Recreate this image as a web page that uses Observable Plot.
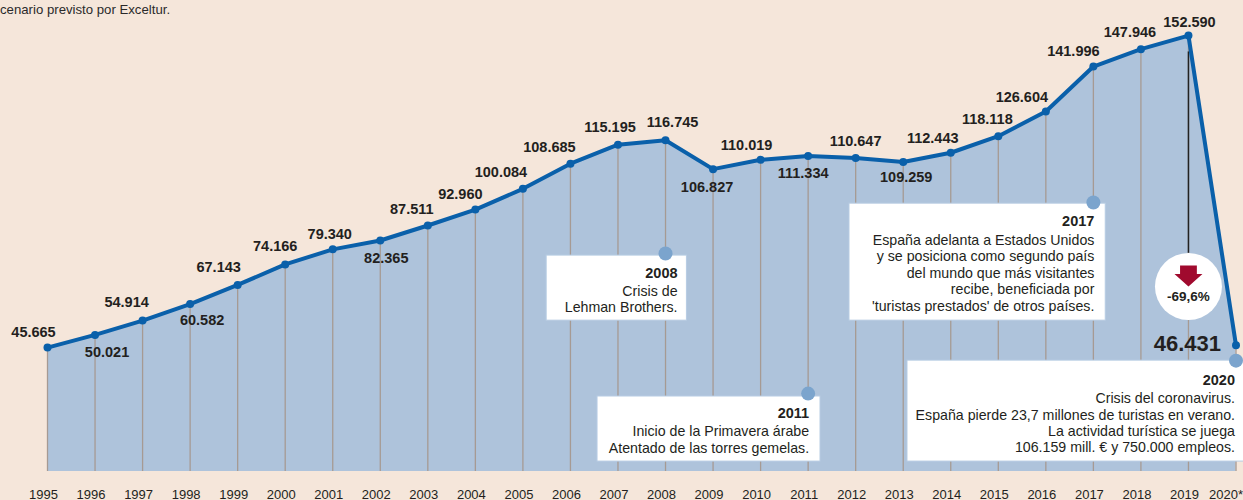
<!DOCTYPE html>
<html><head><meta charset="utf-8">
<script src="https://cdn.jsdelivr.net/npm/d3@7"></script>
<script src="https://cdn.jsdelivr.net/npm/@observablehq/plot@0.6"></script>
<style>
html,body{margin:0;padding:0;background:#F5E6DA;}
#wrap{position:relative;width:1243px;height:500px;overflow:hidden;background:#F5E6DA;}
#cap{position:absolute;left:0;top:2px;font:13.2px "Liberation Sans",Arial,sans-serif;color:#2a2a2a;white-space:nowrap;}
#wrap svg{display:block;}
</style></head><body>
<div id="wrap"><div id="cap">cenario previsto por Exceltur.</div></div>
<script>
// ---- data ----
const years = [1995,1996,1997,1998,1999,2000,2001,2002,2003,2004,2005,2006,2007,2008,2009,2010,2011,2012,2013,2014,2015,2016,2017,2018,2019,2020];
const visitors = [45.665,50.021,54.914,60.582,67.143,74.166,79.340,82.365,87.511,92.960,100.084,108.685,115.195,116.745,106.827,110.019,111.334,110.647,109.259,112.443,118.118,126.604,141.996,147.946,152.590,46.431];
const tickLabels = ["1995","1996","1997","1998","1999","2000","2001","2002","2003","2004","2005","2006","2007","2008","2009","2010","2011","2012","2013","2014","2015","2016","2017","2018","2019","2020*"];
const noteYears = [2008, 2011, 2017, 2020];
const noteTitles = ["2008", "2011", "2017", "2020"];
const noteTexts = [
  "Crisis de\nLehman Brothers.",
  "Inicio de la Primavera árabe\nAtentado de las torres gemelas.",
  "España adelanta a Estados Unidos\ny se posiciona como segundo país\ndel mundo que más visitantes\nrecibe, beneficiada por\n'turistas prestados' de otros países.",
  "Crisis del coronavirus.\nEspaña pierde 23,7 millones de turistas en verano.\nLa actividad turística se juega\n106.159 mill. € y 750.000 empleos."
];
const changeLabel = "-69,6%";
const captionText = "cenario previsto por Exceltur.";

// ---- layout (styling only) ----
// label offsets [dx, dy] in px from each point (dy = baseline offset)
const labelOffsets = [[-14,-11],[12,22],[-16,-14],[12,21],[-19,-13],[-10,-13],[-3,-10],[6,22],[-16,-12],[-15,-11],[-22,-12],[-21,-12],[-8,-13],[7,-13],[-6,23],[-14,-10],[-5,22],[0,-12],[3,20],[-18,-10],[-11,-12],[-24,-9],[-20,-11],[-11,-12],[1,-9],[-15,6]];
// annotation boxes in data units: anchor value, x1, x2, yBottom, yTop, text dx
const noteLayout = [
  {v: 77.9, x1: 2005.5, x2: 2008.45, y1: 54.9, y2: 77.2, dx: 12},
  {v: 29.9, x1: 2006.57, x2: 2011.26, y1: 6.6, y2: 28.9, dx: 1},
  {v: 95.4, x1: 2011.87, x2: 2017.26, y1: 54.9, y2: 95.0, dx: 1},
  {v: 41.2, x1: 2013.09, x2: 2020.4, y1: 6.6, y2: 41.2, dx: -1}
];

const esLocale = d3.formatLocale({decimal: ",", thousands: ".", grouping: [3], currency: ["", "€"]});
const fmt = esLocale.format(",.0f");

const data = years.map((y, i) => ({year: y, value: visitors[i], label: fmt(Math.round(visitors[i] * 1000)), off: labelOffsets[i], tick: tickLabels[i]}));
const notes = noteYears.map((y, i) => ({year: y, title: noteTitles[i], text: noteTexts[i], ...noteLayout[i]}));

const Y0 = 3.2;
const LINE = "#0A60AA", AREA = "#AEC3DB", GRID = "#A69A93", INK = "#231F20";
const FONT = "Liberation Sans, Arial, sans-serif";

const arrowSymbol = {
  draw(ctx, size) {
    const r = Math.sqrt(size / Math.PI);
    const sw = 0.6 * r, top = -0.75 * r, ht = -0.15 * r, tip = 0.75 * r, hw = r;
    ctx.moveTo(-sw, top); ctx.lineTo(sw, top); ctx.lineTo(sw, ht); ctx.lineTo(hw, ht);
    ctx.lineTo(0, tip); ctx.lineTo(-hw, ht); ctx.lineTo(-sw, ht); ctx.closePath();
  }
};

const last = data[data.length - 1];
const prev = data[data.length - 2];

const valueLabelMarks = data.map((d, i) => {
  const isLast = i === data.length - 1;
  return Plot.text([d], {
    x: "year", y: "value", text: "label",
    dx: d.off[0], dy: d.off[1],
    lineAnchor: "bottom",
    textAnchor: isLast ? "end" : "middle",
    fontSize: isLast ? 22 : 14.5, fontWeight: "bold", fill: INK,
    fontFamily: FONT
  });
});

const noteMarks = notes.flatMap(n => [
  Plot.text([n], {x: "year", y: "v", text: "title", textAnchor: "end", lineAnchor: "top", dx: n.dx, dy: 24 - 0.71 * 14.5, fontSize: 14.5, fontWeight: "bold", fill: INK, fontFamily: FONT}),
  Plot.text([n], {x: "year", y: "v", text: "text", textAnchor: "end", lineAnchor: "top", dx: n.dx, dy: 41 - 0.71 * 14.2, fontSize: 14.2, lineHeight: 16.4 / 14.2, fill: INK, fontFamily: FONT})
]);

const chart = Plot.plot({
  width: 1243, height: 500,
  marginLeft: 47, marginRight: 7.5, marginTop: 13.5, marginBottom: 29,
  x: {domain: [1995, 2020], axis: null},
  y: {domain: [Y0, 160], axis: null},
  style: {background: "transparent", fontFamily: FONT, overflow: "visible"},
  marks: [
    Plot.areaY(data, {x: "year", y1: Y0, y2: "value", fill: AREA}),
    Plot.ruleX(data, {x: "year", y1: Y0, y2: "value", stroke: GRID, strokeWidth: 1.3}),
    Plot.rect(notes, {x1: "x1", x2: "x2", y1: "y1", y2: "y2", fill: "white", stroke: "#B7CCE3", strokeWidth: 1}),
    Plot.ruleX([prev], {x: "year", y1: 78, y2: 147, stroke: "#222", strokeWidth: 1.5}),
    Plot.line(data, {x: "year", y: "value", stroke: LINE, strokeWidth: 4, strokeLinejoin: "round"}),
    Plot.dot(data, {x: "year", y: "value", r: 4, fill: LINE}),
    Plot.dot(notes, {x: "year", y: "v", r: 7, fill: "#7BA4CD"}),
    ...noteMarks,
    ...valueLabelMarks,
    Plot.dot([prev], {x: "year", y: 66.6, r: 33.5, fill: "white"}),
    Plot.dot([prev], {x: "year", y: 70.2, r: 14, symbol: arrowSymbol, fill: "#A00A2E"}),
    Plot.text([prev], {x: "year", y: 66.6, text: () => changeLabel, dy: 14, lineAnchor: "bottom", fontSize: 13.5, fontWeight: "bold", fill: INK, fontFamily: FONT}),
    Plot.text(data, {x: "year", frameAnchor: "bottom", text: "tick", lineAnchor: "bottom", dy: 27, dx: -4, fontSize: 13, fill: INK, fontFamily: FONT, filter: d => d.year !== 2020}),
    Plot.text([last], {x: "year", frameAnchor: "bottom", text: "tick", lineAnchor: "bottom", dy: 27, dx: -10, fontSize: 13, fill: INK, fontFamily: FONT})
  ]
});
document.getElementById("wrap").appendChild(chart);
document.getElementById("cap").textContent = captionText;
</script>
</body></html>
